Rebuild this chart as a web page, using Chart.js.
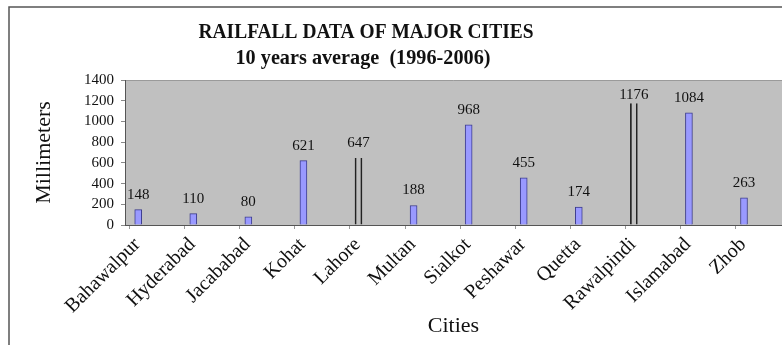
<!DOCTYPE html>
<html>
<head>
<meta charset="utf-8">
<script src="https://cdn.jsdelivr.net/npm/chart.js@4.4.0/dist/chart.umd.min.js"></script>
<style>
  body { margin: 0; background: #fff; }
  #wrap { width: 782px; height: 345px; }
</style>
</head>
<body>
<div id="wrap"><canvas id="rainChart"></canvas></div>
<script>
const cities = ['Bahawalpur', 'Hyderabad', 'Jacababad', 'Kohat', 'Lahore', 'Multan', 'Sialkot', 'Peshawar', 'Quetta', 'Rawalpindi', 'Islamabad', 'Zhob'];
const rainfall = [148, 110, 80, 621, 647, 188, 968, 455, 174, 1176, 1084, 263];
const yTicks = [0, 200, 400, 600, 800, 1000, 1200, 1400];
const outlined = ['Lahore', 'Rawalpindi'];
const titleLines = ['RAILFALL DATA OF MAJOR CITIES', '10 years average  (1996-2006)'];

const serif = '"Liberation Serif", "Times New Roman", serif';

// x range, bars sit a bit right of the category tick marks
const xMin = -0.24, xMax = 11.69, tickShift = 0.155;

// frame, gray plot background
const background = {
  id: 'background',
  beforeDraw(chart) {
    const {ctx, chartArea: a} = chart;
    ctx.save();
    ctx.fillStyle = '#c0c0c0';
    ctx.fillRect(a.left, a.top, a.right - a.left, a.bottom - a.top);
    ctx.strokeStyle = '#9a9a9a';
    ctx.lineWidth = 1;
    ctx.beginPath();
    ctx.moveTo(a.left, a.top + 0.5);
    ctx.lineTo(a.right, a.top + 0.5);
    ctx.stroke();
    ctx.strokeStyle = '#555';
    ctx.lineWidth = 1.5;
    ctx.beginPath();
    ctx.moveTo(9, chart.height);
    ctx.lineTo(9, 7);
    ctx.lineTo(chart.width, 7);
    ctx.stroke();
    ctx.restore();
  }
};

// two line title, a little condensed like the original
const titles = {
  id: 'titles',
  afterDraw(chart) {
    const ctx = chart.ctx;
    ctx.save();
    ctx.fillStyle = '#111';
    ctx.textAlign = 'center';
    ctx.textBaseline = 'middle';
    ctx.font = 'bold 21px ' + serif;
    ctx.fillText(titleLines[0], 366, 33, 335);
    ctx.fillText(titleLines[1], 363, 59, 255);
    ctx.restore();
  }
};

// value labels above bars
const valueLabels = {
  id: 'valueLabels',
  afterDatasetsDraw(chart) {
    const {ctx, chartArea: a} = chart;
    const meta = chart.getDatasetMeta(0);
    ctx.save();
    ctx.fillStyle = '#111';
    ctx.font = '15px ' + serif;
    ctx.textAlign = 'center';
    ctx.textBaseline = 'middle';
    meta.data.forEach((bar, i) => {
      const y = Math.max(bar.y - 15, a.top + 15);
      ctx.fillText(String(rainfall[i]), bar.x, y);
    });
    ctx.restore();
  }
};

const isOutlined = c => outlined.includes(cities[c.dataIndex]);

const rainChart = new Chart(document.getElementById('rainChart'), {
  type: 'bar',
  data: {
    datasets: [{
      label: 'Rainfall (mm)',
      data: cities.map((c, i) => ({x: i, y: rainfall[i]})),
      barThickness: 7,
      backgroundColor: c => isOutlined(c) ? 'rgba(0,0,0,0)' : '#9999ff',
      borderColor: c => isOutlined(c) ? '#222' : '#3c3c8c',
      borderWidth: c => isOutlined(c) ? {left: 1, right: 1, top: 0, bottom: 0} : 1
    }]
  },
  options: {
    responsive: true,
    maintainAspectRatio: false,
    animation: false,
    layout: { padding: { top: 80, left: 0, right: 0, bottom: 0 }, autoPadding: false },
    plugins: {
      legend: { display: false },
      tooltip: { enabled: false }
    },
    scales: {
      x: {
        type: 'linear',
        offset: false,
        min: xMin,
        max: xMax,
        afterFit: s => { s.height = 120; },
        grid: { offset: false, drawOnChartArea: false, drawTicks: false },
        border: { display: true, color: '#555' },
        ticks: {
          stepSize: 1,
          includeBounds: false,
          autoSkip: false,
          maxRotation: 45,
          minRotation: 45,
          padding: 8,
          labelOffset: -1,
          color: '#111',
          font: { family: serif, size: 20 },
          callback: v => cities[v]
        },
        title: {
          display: true,
          text: 'Cities',
          color: '#111',
          font: { family: serif, size: 22 },
          padding: { top: 0, bottom: 6 }
        }
      },
      x2: {
        type: 'linear',
        position: 'bottom',
        weight: -1,
        offset: false,
        min: xMin + tickShift,
        max: xMax + tickShift,
        afterFit: s => { s.height = 0; },
        grid: { offset: false, drawOnChartArea: false, drawTicks: true, tickLength: 4, color: '#999' },
        border: { display: false },
        ticks: { display: false, stepSize: 1, includeBounds: false }
      },
      y: {
        min: yTicks[0],
        max: yTicks[yTicks.length - 1],
        afterFit: s => { s.width = 125; },
        grid: { drawOnChartArea: false, drawTicks: true, tickLength: 4, color: '#888' },
        border: { display: true, color: '#555' },
        ticks: {
          stepSize: yTicks[1] - yTicks[0],
          autoSkip: false,
          padding: 7,
          color: '#111',
          font: { family: serif, size: 15 },
          callback: v => String(v)
        },
        title: {
          display: true,
          text: 'Millimeters',
          color: '#111',
          font: { family: serif, size: 22 },
          padding: { top: 31, bottom: 0 }
        }
      }
    }
  },
  plugins: [background, valueLabels, titles]
});
</script>
</body>
</html>
